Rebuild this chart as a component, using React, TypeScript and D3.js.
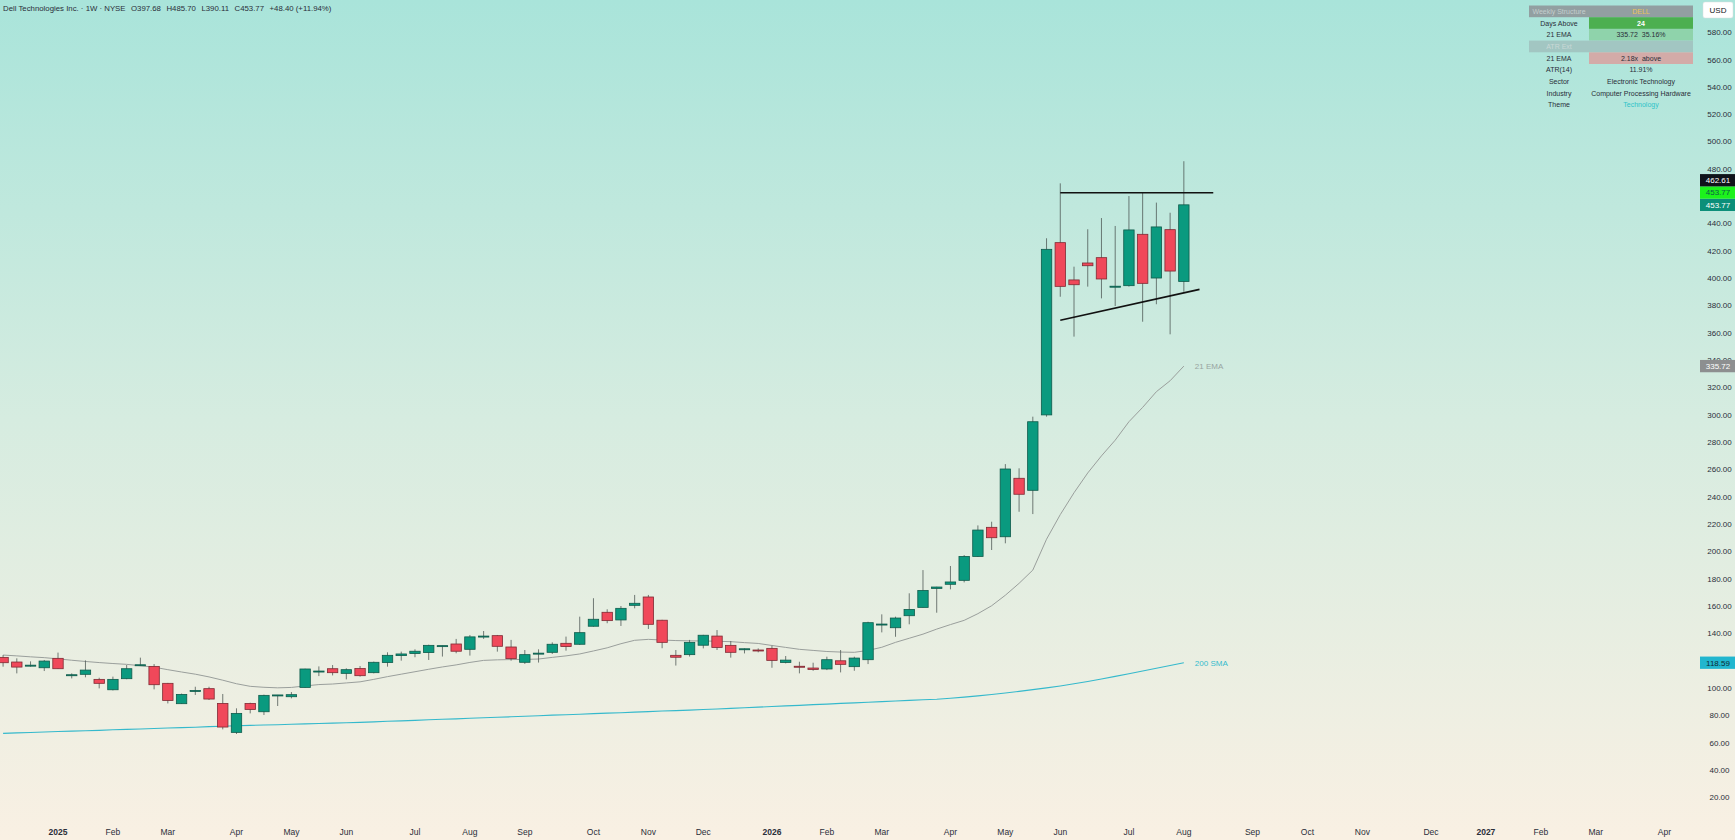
import React from "react";
import * as d3 from "d3";

const W = 1735;
const H = 840;

// weekly bars, Mondays from 9 Dec 2024 to 3 Aug 2026
const weekStarts = d3.timeMonday.range(new Date(2024, 11, 9), new Date(2026, 7, 4));

const opens = [
  122.5, 119.1, 116.4, 114.9, 121.8, 109.4, 110.1, 106.4, 98.8, 106.9,
  116.6, 115.9, 103.5, 88.6, 97.9, 99.6, 88.8, 67.6, 88.8, 82.7,
  94.8, 93.7, 100.5, 112.1, 114.2, 110.8, 114.3, 111.3, 118.7, 123.8,
  125.3, 126.0, 130.4, 132.3, 128.4, 137.7, 138.4, 130.1, 118.9, 125.3,
  126.2, 132.8, 132.1, 145.3, 155.5, 149.9, 160.6, 166.7, 149.7, 124.0,
  124.5, 131.4, 138.1, 131.3, 128.3, 127.9, 129.1, 118.8, 116.0, 114.7,
  114.0, 120.0, 115.7, 120.8, 146.5, 144.2, 153.0, 159.1, 173.0, 176.0,
  178.9, 196.4, 217.7, 210.8, 253.6, 244.8, 300.0, 426.1, 398.8, 411.2,
  415.1, 393.6, 394.6, 432.2, 400.2, 435.6, 397.68,
];
const highs = [
  124.2, 121.8, 119.6, 120.6, 126.0, 110.8, 120.3, 107.6, 108.4, 116.9,
  122.3, 117.6, 103.8, 96.0, 101.0, 101.0, 95.7, 85.2, 89.3, 95.2,
  95.0, 97.1, 114.2, 115.9, 116.9, 114.5, 116.2, 119.4, 126.2, 126.7,
  128.4, 131.8, 131.1, 136.0, 138.9, 141.8, 138.9, 135.3, 127.9, 128.4,
  133.5, 137.7, 152.3, 165.8, 157.7, 160.1, 168.2, 168.2, 150.0, 127.9,
  135.3, 139.0, 142.5, 134.5, 129.1, 129.1, 131.0, 123.5, 119.3, 118.6,
  123.0, 127.9, 123.0, 148.6, 154.0, 152.3, 169.4, 186.4, 174.2, 189.4,
  197.4, 219.1, 221.8, 264.0, 260.9, 298.7, 429.3, 469.5, 408.5, 435.9,
  444.1, 438.3, 460.2, 462.7, 455.4, 448.0, 485.7,
];
const lows = [
  115.7, 110.8, 115.7, 112.5, 114.0, 107.1, 107.9, 99.8, 98.3, 106.5,
  116.2, 99.1, 88.8, 88.4, 95.0, 91.3, 69.8, 66.4, 81.5, 80.3,
  86.9, 92.5, 100.3, 108.8, 109.3, 106.4, 108.4, 110.8, 115.7, 120.1,
  122.6, 120.6, 123.1, 125.5, 123.8, 136.0, 126.7, 120.1, 117.7, 118.7,
  125.0, 127.4, 131.6, 145.0, 147.5, 145.5, 158.4, 143.3, 129.2, 116.5,
  123.1, 129.1, 127.9, 122.3, 125.4, 126.2, 114.9, 118.1, 110.8, 112.7,
  113.2, 111.5, 112.7, 117.6, 140.8, 137.6, 146.7, 159.0, 155.2, 172.3,
  177.4, 196.0, 201.1, 206.0, 229.1, 227.4, 298.7, 386.5, 357.3, 393.9,
  385.3, 379.7, 393.9, 368.2, 381.0, 359.0, 390.11,
];
const closes = [
  118.6, 115.4, 116.8, 119.8, 114.2, 109.8, 113.2, 103.5, 106.4, 114.2,
  117.1, 102.5, 91.0, 95.4, 98.3, 92.0, 71.5, 81.5, 84.4, 94.7,
  95.0, 95.2, 114.0, 112.5, 111.3, 113.5, 109.1, 118.9, 124.0, 125.0,
  127.0, 131.3, 131.1, 127.0, 137.5, 138.1, 130.6, 121.6, 124.5, 125.6,
  132.1, 130.4, 140.6, 150.4, 149.4, 158.4, 162.1, 146.7, 133.5, 122.6,
  133.5, 138.7, 129.8, 126.2, 128.8, 127.4, 120.3, 120.5, 115.5, 113.7,
  120.8, 117.4, 122.0, 147.9, 146.9, 151.3, 157.6, 171.5, 174.0, 177.7,
  196.4, 215.7, 210.1, 260.4, 241.9, 295.0, 421.2, 394.1, 395.3, 409.2,
  399.5, 394.2, 435.4, 396.3, 437.6, 405.3, 453.77,
];
const ema21 = [
  124.2, 123.6, 122.9, 122.3, 121.4, 120.4, 119.5, 118.7, 118.0, 117.4,
  116.4, 115.3, 113.5, 111.8, 110.2, 108.2, 105.8, 103.2, 101.3, 100.6,
  100.2, 100.5, 101.6, 102.6, 103.0, 103.8, 104.6, 106.4, 108.4, 110.2,
  112.0, 113.8, 115.5, 117.0, 118.8, 120.3, 120.7, 120.9, 121.0, 121.3,
  122.5, 123.6, 125.0, 127.2, 129.5, 132.5, 135.0, 135.7, 135.2, 134.8,
  134.6, 134.5, 134.3, 134.0, 133.3, 132.7, 131.2, 129.8, 128.4, 127.6,
  126.8, 126.4, 126.2, 127.6, 129.9, 133.5, 136.5, 139.5, 143.2, 146.5,
  149.6, 154.5, 160.3, 168.0, 176.7, 186.4, 209.0, 227.0, 243.0, 257.5,
  270.0, 281.5, 295.0, 305.5, 317.0, 325.0, 335.72,
];
const sma200 = [
  66.9, 67.2, 67.5, 67.9, 68.2, 68.5, 68.8, 69.1, 69.5, 69.8,
  70.1, 70.4, 70.8, 71.1, 71.4, 71.8, 72.1, 72.4, 72.7, 73.0,
  73.2, 73.5, 73.8, 74.1, 74.4, 74.6, 74.9, 75.3, 75.7, 76.0,
  76.4, 76.8, 77.2, 77.5, 77.9, 78.3, 78.7, 79.0, 79.4, 79.8,
  80.2, 80.5, 80.9, 81.3, 81.7, 82.0, 82.4, 82.8, 83.2, 83.5,
  83.9, 84.3, 84.7, 85.2, 85.6, 86.1, 86.5, 87.0, 87.4, 87.9,
  88.3, 88.8, 89.2, 89.7, 90.1, 90.6, 91.0, 91.5, 91.9, 92.6,
  93.4, 94.3, 95.3, 96.4, 97.6, 98.9, 100.2, 101.6, 103.2, 104.9,
  106.7, 108.6, 110.5, 112.5, 114.5, 116.5, 118.59,
];

// hand-drawn lines (date, price)
const resistance = [
  { date: new Date(2026, 5, 1), value: 462.61 },
  { date: new Date(2026, 7, 18), value: 462.61 },
];
const support = [
  { date: new Date(2026, 5, 1), value: 369.3 },
  { date: new Date(2026, 7, 11), value: 391.9 },
];

const priceTicks = d3.range(20, 581, 20);
const axisMonths = d3.timeMonth.range(new Date(2025, 0, 1), new Date(2027, 4, 1));

const legendParts = ["Dell Technologies Inc. · 1W · NYSE", "O397.68", "H485.70", "L390.11", "C453.77", "+48.40 (+11.94%)"];

const tableRows = [
  ["Weekly Structure", "DELL"],
  ["Days Above", "24"],
  ["21 EMA", "335.72  35.16%"],
  ["ATR Ext", ""],
  ["21 EMA", "2.18x  above"],
  ["ATR(14)", "11.91%"],
  ["Sector", "Electronic Technology"],
  ["Industry", "Computer Processing Hardware"],
  ["Theme", "Technology"],
];
const tableStyle = [
  { labelBg: "#929fa1", valueBg: "#929fa1", labelColor: "#c3cdcd", valueColor: "#e9c35a" },
  { labelBg: null, valueBg: "#4caf50", labelColor: "#2a2e39", valueColor: "#ffffff" },
  { labelBg: null, valueBg: "#8fd3ab", labelColor: "#2a2e39", valueColor: "#2a2e39" },
  { labelBg: "#a2c6c2", valueBg: "#a2c6c2", labelColor: "#c9d8d6", valueColor: "#2a2e39" },
  { labelBg: null, valueBg: "#d3aba8", labelColor: "#2a2e39", valueColor: "#2a2e39" },
  { labelBg: null, valueBg: null, labelColor: "#2a2e39", valueColor: "#2a2e39" },
  { labelBg: null, valueBg: null, labelColor: "#2a2e39", valueColor: "#2a2e39" },
  { labelBg: null, valueBg: null, labelColor: "#2a2e39", valueColor: "#2a2e39" },
  { labelBg: null, valueBg: null, labelColor: "#2a2e39", valueColor: "#2fc4c9" },
];

const FONT = "'Liberation Sans', Arial, sans-serif";
const UP = "#0a9a7f";
const DOWN = "#f0485a";

export default function App() {
  const x = d3
    .scaleTime()
    .domain([new Date(2025, 0, 6), new Date(2027, 0, 4)])
    .range([58, 1485.9]);
  const y = d3.scaleLinear().domain([20, 580]).range([797.4, 32.4]);

  const bars = weekStarts.map((d, i) => ({
    date: d,
    o: opens[i],
    h: highs[i],
    l: lows[i],
    c: closes[i],
    ema: ema21[i],
    sma: sma200[i],
  }));
  const last = bars[bars.length - 1];

  const emaLine = d3.line<any>().x((d) => x(d.date)).y((d) => y(d.ema));
  const smaLine = d3.line<any>().x((d) => x(d.date)).y((d) => y(d.sma));
  const drawn = d3.line<any>().x((d) => x(d.date)).y((d) => y(d.value));

  const bodyW = 10.4;
  const boxH = 12.3;
  const axisX = 1700;

  // last value labels on the price scale, stacked upward from the close
  const closeY = y(last.c);
  const valueBoxes = [
    { cy: closeY, bg: "#0b8f79", fg: "#ffffff", text: last.c.toFixed(2) },
    { cy: closeY - boxH, bg: "#1cf21c", fg: "#0c5a48", text: last.c.toFixed(2) },
    { cy: closeY - 2 * boxH, bg: "#10131a", fg: "#ffffff", text: resistance[0].value.toFixed(2) },
    { cy: y(last.ema), bg: "#8d8f90", fg: "#ffffff", text: last.ema.toFixed(2) },
    { cy: y(last.sma), bg: "#22b6cf", fg: "#0d2b31", text: last.sma.toFixed(2) },
  ];
  const hidden = (ty: number) => valueBoxes.some((b) => ty > b.cy - boxH / 2 + 1 && ty < b.cy + boxH / 2 + 2);

  const tblX = 1529;
  const tblLabelW = 60;
  const tblValueW = 104;
  const tblY = 5.5;
  const rowH = 11.7;

  return (
    <svg
      width={W}
      height={H}
      style={{ position: "absolute", left: 0, top: 0, display: "block" }}
      fontFamily={FONT}
    >
      <defs>
        <linearGradient id="bg" x1="0" y1="0" x2="0" y2="1">
          <stop offset="0" stopColor="#a9e4da" />
          <stop offset="0.5" stopColor="#d6ece0" />
          <stop offset="1" stopColor="#f9f0e3" />
        </linearGradient>
      </defs>
      <rect width={W} height={H} fill="url(#bg)" />

      {/* moving averages */}
      <path d={smaLine(bars) ?? ""} fill="none" stroke="#35b9cc" strokeWidth={1.1} />
      <path d={emaLine(bars) ?? ""} fill="none" stroke="#9a9f9c" strokeWidth={1} />

      {/* candles */}
      {bars.map((b, i) => {
        const cx = x(b.date);
        const up = b.c >= b.o;
        const top = y(Math.max(b.o, b.c));
        const bot = y(Math.min(b.o, b.c));
        return (
          <g key={i}>
            <line x1={cx} x2={cx} y1={y(b.h)} y2={y(b.l)} stroke="#48524f" strokeOpacity={0.75} strokeWidth={1} />
            <rect
              x={cx - bodyW / 2}
              y={top}
              width={bodyW}
              height={Math.max(1, bot - top)}
              fill={up ? UP : DOWN}
              stroke={up ? "#0f5b4b" : "#7f2a33"}
              strokeWidth={0.8}
            />
          </g>
        );
      })}

      {/* drawings */}
      <path d={drawn(resistance) ?? ""} stroke="#111" strokeWidth={1.6} fill="none" />
      <path d={drawn(support) ?? ""} stroke="#111" strokeWidth={1.6} fill="none" />

      {/* indicator names */}
      <text x={x(last.date) + 11} y={y(last.ema)} dy="0.35em" fontSize={8} fill="#98a5a1">
        21 EMA
      </text>
      <text x={x(last.date) + 11} y={y(last.sma)} dy="0.35em" fontSize={8} fill="#35bccd">
        200 SMA
      </text>

      {/* price axis */}
      {priceTicks
        .filter((t) => !hidden(y(t)))
        .map((t) => (
          <text key={t} x={1719.5} y={y(t)} dy="0.35em" textAnchor="middle" fontSize={8} fill="#2a2e39">
            {t.toFixed(2)}
          </text>
        ))}
      {valueBoxes.map((b, i) => (
        <g key={i}>
          <rect x={axisX} y={b.cy - boxH / 2} width={35} height={boxH} fill={b.bg} />
          <text x={axisX + 18} y={b.cy} dy="0.36em" textAnchor="middle" fontSize={8} fill={b.fg}>
            {b.text}
          </text>
        </g>
      ))}
      <rect x={1703} y={2} width={30} height={16} rx={2} fill="#ffffff" stroke="#d8dcdc" strokeWidth={0.5} />
      <text x={1718} y={10} dy="0.35em" textAnchor="middle" fontSize={8} fill="#131722">
        USD
      </text>

      {/* time axis */}
      {axisMonths.map((m, i) => {
        const pos = x(d3.timeMonday.ceil(m));
        const isYear = m.getMonth() === 0;
        return (
          <text
            key={i}
            x={pos}
            y={832}
            dy="0.35em"
            textAnchor="middle"
            fontSize={8.5}
            fontWeight={isYear ? "bold" : "normal"}
            fill="#2a2e39"
          >
            {isYear ? d3.timeFormat("%Y")(m) : d3.timeFormat("%b")(m)}
          </text>
        );
      })}

      {/* status table */}
      {tableRows.map((r, i) => {
        const s = tableStyle[i];
        const ry = tblY + i * rowH;
        return (
          <g key={i}>
            {s.labelBg && <rect x={tblX} y={ry} width={tblLabelW} height={rowH} fill={s.labelBg} />}
            {s.valueBg && <rect x={tblX + tblLabelW} y={ry} width={tblValueW} height={rowH} fill={s.valueBg} />}
            <text
              x={tblX + tblLabelW / 2}
              y={ry + rowH / 2}
              dy="0.35em"
              textAnchor="middle"
              fontSize={7}
              fill={s.labelColor}
            >
              {r[0]}
            </text>
            <text
              x={tblX + tblLabelW + tblValueW / 2}
              y={ry + rowH / 2}
              dy="0.35em"
              textAnchor="middle"
              fontSize={7}
              fill={s.valueColor}
              fontWeight={i === 1 ? "bold" : "normal"}
              style={{ whiteSpace: "pre" }}
            >
              {r[1]}
            </text>
          </g>
        );
      })}

      {/* legend */}
      <text x={3} y={8.3} dy="0.35em" fontSize={7.8} fill="#2a2e39">
        {legendParts.map((p, i) => (
          <tspan key={i} dx={i === 0 ? 0 : 5.5}>
            {p}
          </tspan>
        ))}
      </text>
    </svg>
  );
}
